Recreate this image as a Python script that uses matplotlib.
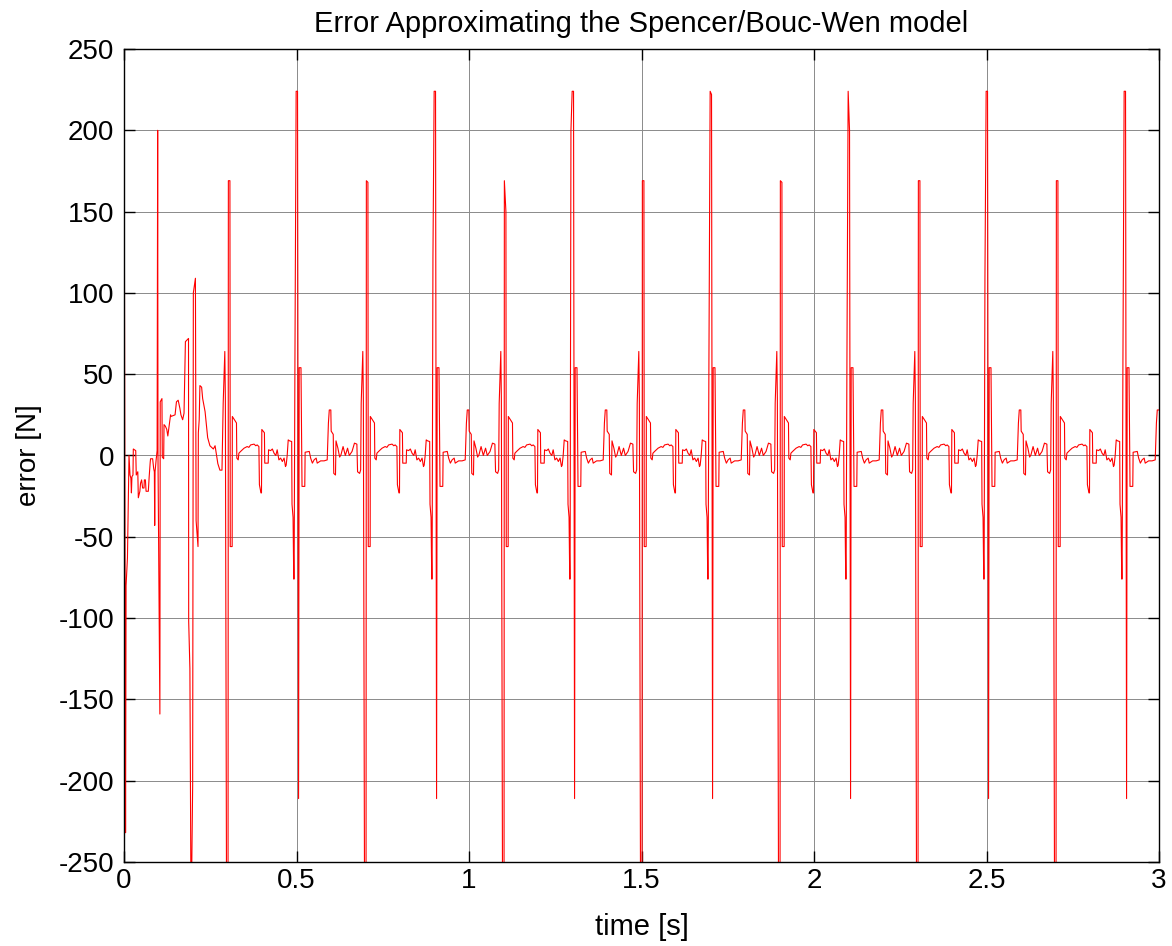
import matplotlib
matplotlib.use("Agg")
import matplotlib.pyplot as plt

plt.rcParams['font.family'] = ['Liberation Sans', 'DejaVu Sans']
plt.rcParams['axes.unicode_minus'] = False

# ---------------------------------------------------------------
# Start-up transient of the model error, 0 .. 0.285 s  [s], [N]
# ---------------------------------------------------------------
start_t = [0.0000, 0.0045, 0.0060, 0.0100, 0.0145, 0.0150, 0.0174, 0.0200,
           0.0215, 0.0230, 0.0260, 0.0270, 0.0340, 0.0355, 0.0400, 0.0415,
           0.0460, 0.0480, 0.0510, 0.0540, 0.0580, 0.0590, 0.0620, 0.0640,
           0.0705, 0.0730, 0.0760, 0.0770, 0.0830, 0.0860, 0.0880, 0.0890,
           0.0900, 0.0930, 0.0960, 0.0976, 0.0985, 0.1040, 0.1050, 0.1100,
           0.1110, 0.1150, 0.1160, 0.1200, 0.1240, 0.1270, 0.1300, 0.1350,
           0.1360, 0.1480, 0.1520, 0.1570, 0.1620, 0.1650, 0.1700, 0.1740,
           0.1780, 0.1870, 0.1875, 0.1910, 0.1945, 0.1990, 0.2010, 0.2070,
           0.2090, 0.2145, 0.2155, 0.2180, 0.2200, 0.2250, 0.2280, 0.2350,
           0.2425, 0.2490, 0.2540, 0.2590, 0.2640, 0.2685, 0.2720, 0.2780,
           0.2840]
start_e = [255, -232, -80, -63, 0, -2, -12, -14,
           -23, -13, -12, 4, 3, -12, -10, -26,
           -22, -17, -15, -20, -20, -15, -15, -22,
           -22, -13, -4, -2, -2, -8, -10, -43,
           -10, -3, 3, 200, 0, -159, 33, 35,
           -1, -2, 19, 18, 16, 12, 17, 25,
           24, 25, 33, 34, 29, 25, 22, 26,
           70, 72, -102, -131, -290, -203, 100, 109,
           -40, -56, 14, 22, 43, 42, 35, 27,
           11, 6, 5, 4, 6, 0, -5, -9,
           -9]

# ---------------------------------------------------------------
# Large error spikes: "A" type (169 N peak, negative lobe off-scale)
# ---------------------------------------------------------------
a_times = [0.3, 0.7, 1.1, 1.5, 1.9, 2.3, 2.7]
a_top = [169, 169, 169, 169, 169, 169, 169]
a_top_end = [169, 168, 150, 169, 168, 169, 169]
a_pre_dt = [-0.0125, -0.0078, -0.0062, -0.0025, 0.0015]
a_pre_e = [32, 64, 35, -300, -300]
a_top_dt = [0.0025, 0.0070]
a_post_dt = [0.0080, 0.0135, 0.0140, 0.0260]
a_post_e = [-56, -56, 24, 20]

# "B" type spikes (224 N peak, -211 N trough)
b_times = [0.5, 0.9, 1.3, 1.7, 2.1, 2.5, 2.9]
b_knee = [60, 122, 200, 60, 60, 110, 60]
b_top = [224, 224, 224, 224, 224, 224, 224]
b_top_end = [224, 224, 224, 222, 200, 224, 224]
b_pre_dt = [-0.0130, -0.0100, -0.0080, -0.0070]
b_pre_e = [-30, -38, -76, -76]
b_knee_dt = -0.0045
b_top_dt = [-0.0010, 0.0030]
b_post_dt = [0.0060, 0.0078, 0.0130, 0.0160, 0.0240]
b_post_e = [-211, 54, 54, -19, -19]

# ---------------------------------------------------------------
# Small residual between spikes
# ---------------------------------------------------------------
# after an A spike (time relative to the A instant)
ab_noise_dt = [0.0270, 0.0310, 0.0330, 0.0380, 0.0430, 0.0480, 0.0570, 0.0620,
               0.0670, 0.0770, 0.0820, 0.0860, 0.0910, 0.0925, 0.0970, 0.0985,
               0.0995, 0.1070, 0.1080, 0.1180, 0.1190, 0.1250, 0.1300, 0.1350,
               0.1400, 0.1440, 0.1490, 0.1540, 0.1590, 0.1640, 0.1680, 0.1700,
               0.1730, 0.1760, 0.1800, 0.1860]
ab_noise_e = [-1.6, -2.7, 1.4, 2.5, 3.5, 4.5, 5.5, 5.0,
              6.5, 7.0, 6.0, 6.5, 5.5, -18, -23, -23,
              16, 14, -4.7, -4.7, 3.5, 3.0, 4.0, 1.4,
              0.0, 3.5, -2.7, -1.6, -3.7, -1.6, -6.8, -6.0,
              0.0, 9.6, 9.0, 8.6]

# after a B spike (time relative to the B instant)
ba_noise_dt = [0.0250, 0.0370, 0.0410, 0.0460, 0.0510, 0.0570, 0.0600, 0.0700,
               0.0800, 0.0890, 0.0925, 0.0950, 0.0995, 0.1005, 0.1065, 0.1080,
               0.1130, 0.1145, 0.1200, 0.1250, 0.1290, 0.1350, 0.1415, 0.1480,
               0.1530, 0.1610, 0.1680, 0.1750, 0.1770, 0.1830, 0.1860]
ba_noise_e = [2.0, 2.5, -1.6, -4.7, -2.7, -1.6, -4.7, -3.3,
              -3.3, -2.7, 20, 28, 28, 15, 13, -11,
              -12, 9.0, 4.5, -1.0, 0.5, 5.5, 0.0, 4.5,
              0.0, 2.5, 7.6, 7.0, -10, -11, -8.8]

t_end = 3.0

# ---------------------------------------------------------------
# Assemble the time history in chronological order
# ---------------------------------------------------------------
time = list(start_t)
err = list(start_e)
for k in range(len(a_times)):
    ta = a_times[k]
    time += [ta + d for d in a_pre_dt]
    err += a_pre_e
    time += [ta + d for d in a_top_dt]
    err += [a_top[k], a_top_end[k]]
    time += [ta + d for d in a_post_dt]
    err += a_post_e
    time += [ta + d for d in ab_noise_dt]
    err += ab_noise_e

    tb = b_times[k]
    time += [tb + d for d in b_pre_dt]
    err += b_pre_e
    time += [tb + b_knee_dt]
    err += [b_knee[k]]
    time += [tb + d for d in b_top_dt]
    err += [b_top[k], b_top_end[k]]
    time += [tb + d for d in b_post_dt]
    err += b_post_e
    for d, v in zip(ba_noise_dt, ba_noise_e):
        if tb + d <= t_end:
            time.append(tb + d)
            err.append(v)

# ---------------------------------------------------------------
# Figure
# ---------------------------------------------------------------
fig = plt.figure(figsize=(11.72, 9.46), dpi=100)
ax = fig.add_axes([124 / 1172, 1 - 862 / 946, (1159 - 124) / 1172, (862 - 49) / 946])

ax.plot(time, err, color='#ff0000', linewidth=0.8)

ax.set_xlim(0, 3)
ax.set_ylim(-250, 250)
ax.set_xticks([0, 0.5, 1, 1.5, 2, 2.5, 3])
ax.set_xticklabels(['0', '0.5', '1', '1.5', '2', '2.5', '3'])
ax.set_yticks(range(-250, 251, 50))

ax.grid(True, color='#8a8a8a', linewidth=0.7, linestyle='-')
ax.set_axisbelow(True)
for sp in ax.spines.values():
    sp.set_linewidth(1.0)
    sp.set_color('black')

ax.tick_params(direction='in', length=8, width=1.0, top=True, right=True,
               labelsize=20)
ax.tick_params(axis='x', pad=4)
ax.tick_params(axis='y', pad=7)

ax.set_title('Error Approximating the Spencer/Bouc-Wen model', fontsize=21, pad=12)
ax.set_xlabel('time [s]', fontsize=21, labelpad=14)
ax.set_ylabel('error [N]', fontsize=20, labelpad=12)

fig.savefig('out.png', dpi=100)
